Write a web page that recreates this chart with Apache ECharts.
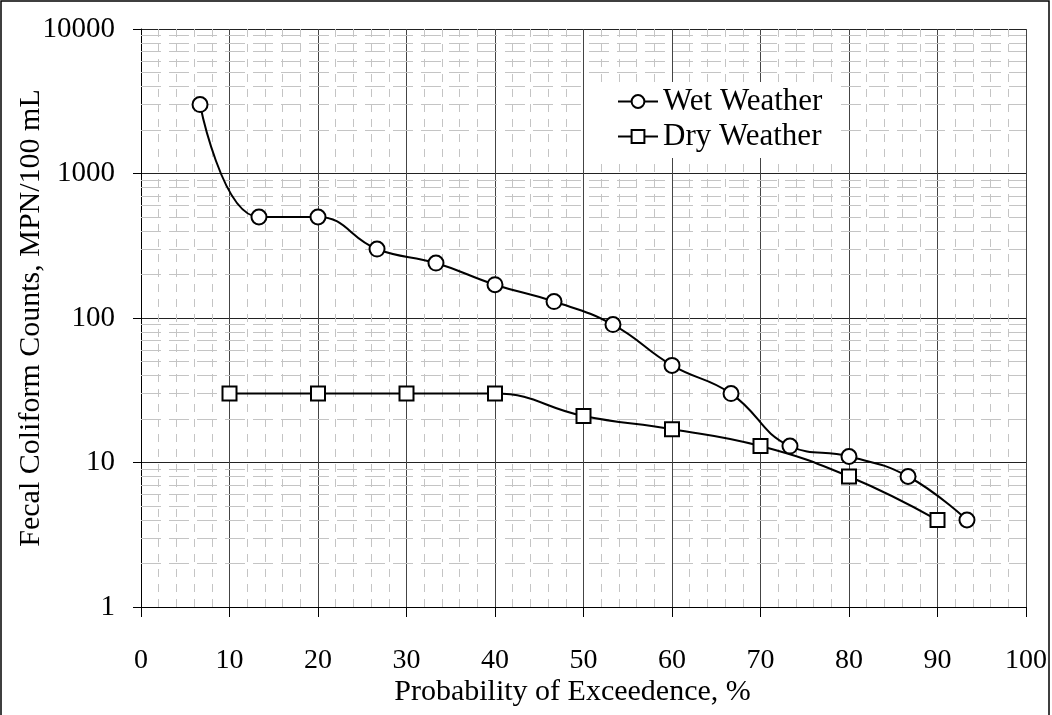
<!DOCTYPE html>
<html>
<head>
<meta charset="utf-8">
<script src="https://cdn.jsdelivr.net/npm/echarts@6/dist/echarts.min.js"></script>
<style>
  html, body { margin: 0; padding: 0; background: #fff; }
  #chart { width: 1052px; height: 715px; }
</style>
</head>
<body>
<div id="chart"></div>
<script>
// Fecal coliform counts versus probability of exceedence
const wetX = [6.67, 13.33, 20, 26.67, 33.33, 40, 46.67, 53.33, 60, 66.67, 73.33, 80, 86.67, 93.33];
const wetY = [3000, 500, 500, 300, 240, 170, 130, 90, 47, 30, 13, 11, 8, 4];
const dryX = [10, 20, 30, 40, 50, 60, 70, 80, 90];
const dryY = [30, 30, 30, 30, 21, 17, 13, 8, 4];

// minor horizontal gridline levels (2..9 within each decade)
const minorLevels = [];
[1, 10, 100, 1000].forEach(function (d) {
  for (let k = 2; k <= 9; k++) minorLevels.push(k * d);
});

const FONT = '"Liberation Serif", "Times New Roman", serif';

const chart = echarts.init(document.getElementById('chart'), null, { renderer: 'canvas' });

chart.setOption({
  animation: false,
  backgroundColor: '#fff',
  textStyle: { fontFamily: FONT, color: '#000' },
  grid: { left: 141, right: 26, top: 29, bottom: 108, containLabel: false, outerBoundsMode: 'none' },
  graphic: [{
    type: 'rect',
    shape: { x: 1, y: 1, width: 1048, height: 730 },
    style: { fill: 'none', stroke: '#000', lineWidth: 1.5 },
    silent: true,
    z: 100
  }],
  legend: {
    left: 585, top: 82,
    orient: 'vertical',
    backgroundColor: '#fff',
    padding: [4, 16, 6, 32],
    itemGap: 4,
    itemWidth: 40,
    itemHeight: 16,
    textStyle: { fontFamily: FONT, fontSize: 31, color: '#000' },
    data: ['Wet Weather', 'Dry Weather'],
    z: 10
  },
  xAxis: {
    type: 'value',
    min: 0, max: 100, interval: 10,
    name: 'Probability of Exceedence, %',
    nameLocation: 'middle',
    nameGap: 70,
    nameMoveOverlap: false,
    nameTextStyle: { fontFamily: FONT, fontSize: 30, color: '#000', padding: [0, 22, 0, 0] },
    axisLine: { show: true, lineStyle: { color: '#000', width: 1 } },
    axisTick: { show: true, length: 10, lineStyle: { color: '#000' } },
    axisLabel: { margin: 40, fontFamily: FONT, fontSize: 28, color: '#000' },
    splitLine: { show: true, lineStyle: { color: '#444', width: 1 } },
    minorTick: { show: false, splitNumber: 5 },
    minorSplitLine: { show: true, lineStyle: { color: '#c4c4c4', width: 1, type: [8, 7] } }
  },
  yAxis: {
    type: 'log',
    logBase: 10,
    min: 1, max: 10000,
    name: 'Fecal Coliform Counts, MPN/100 mL',
    nameLocation: 'middle',
    nameGap: 95,
    nameMoveOverlap: false,
    nameTextStyle: { fontFamily: FONT, fontSize: 30, color: '#000' },
    axisLine: { show: true, lineStyle: { color: '#000', width: 1 } },
    axisTick: { show: true, length: 8, lineStyle: { color: '#000' } },
    axisLabel: {
      margin: 26, fontFamily: FONT, fontSize: 29, color: '#000',
      formatter: function (v) { return String(Math.round(v)); }
    },
    splitLine: { show: true, lineStyle: { color: '#222', width: 1 } }
  },
  series: [
    {
      name: 'minor',
      type: 'line',
      data: [],
      silent: true,
      markLine: {
        silent: true,
        symbol: 'none',
        label: { show: false },
        lineStyle: { color: '#c4c4c4', width: 1, type: [20, 8] },
        data: minorLevels.map(function (v) { return { yAxis: v }; })
      },
      z: 1
    },
    {
      name: 'Wet Weather',
      type: 'line',
      smooth: 0.45,
      data: wetX.map(function (x, i) { return [x, wetY[i]]; }),
      symbol: 'emptyCircle',
      symbolSize: 15,
      lineStyle: { color: '#000', width: 2 },
      itemStyle: { color: '#000', borderWidth: 1.2 },
      z: 5
    },
    {
      name: 'Dry Weather',
      type: 'line',
      smooth: 0.45,
      data: dryX.map(function (x, i) { return [x, dryY[i]]; }),
      symbol: 'emptyRect',
      symbolSize: 14,
      lineStyle: { color: '#000', width: 2 },
      itemStyle: { color: '#000', borderWidth: 1.2 },
      z: 5
    }
  ]
});
</script>
</body>
</html>
